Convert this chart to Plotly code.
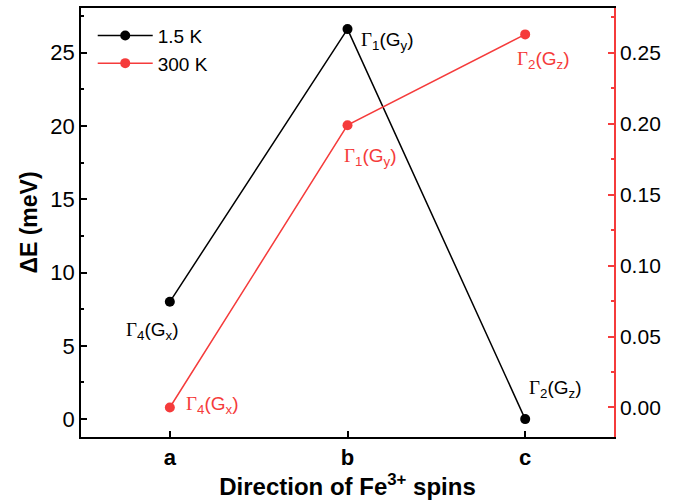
import plotly.graph_objects as go

categories = ["a", "b", "c"]
dE_15K = [8.0, 26.6, 0.0]
dE_300K = [0.0, 0.199, 0.263]
labels_15K = ["Γ<sub>4</sub>(G<sub>x</sub>)", "Γ<sub>1</sub>(G<sub>y</sub>)", "Γ<sub>2</sub>(G<sub>z</sub>)"]
labels_300K = ["Γ<sub>4</sub>(G<sub>x</sub>)", "Γ<sub>1</sub>(G<sub>y</sub>)", "Γ<sub>2</sub>(G<sub>z</sub>)"]

BLACK = "#000000"
RED = "#f53b3b"
FONT = "Liberation Sans, Arial, sans-serif"

def fmt(lbl):
    return lbl.replace("Γ", "<span style='font-family:Liberation Serif, Times New Roman, serif'>Γ</span>")

fig = go.Figure()
fig.add_trace(go.Scatter(x=categories, y=dE_15K, name="1.5 K", mode="lines+markers",
                         line=dict(color=BLACK, width=1.5),
                         marker=dict(color=BLACK, size=10), yaxis="y"))
fig.add_trace(go.Scatter(x=categories, y=dE_300K, name="300 K", mode="lines+markers",
                         line=dict(color=RED, width=1.5),
                         marker=dict(color=RED, size=10), yaxis="y2"))

shifts_15K = [(-18, -29), (39, -12), (30, 30)]
shifts_300K = [(42, 2), (22, -32), (18, -26)]
for c, v, l, (dx, dy) in zip(categories, dE_15K, labels_15K, shifts_15K):
    fig.add_annotation(x=c, y=v, xref="x", yref="y", text=fmt(l), showarrow=False,
                       xshift=dx, yshift=dy, font=dict(family=FONT, size=19, color=BLACK))
for c, v, l, (dx, dy) in zip(categories, dE_300K, labels_300K, shifts_300K):
    fig.add_annotation(x=c, y=v, xref="x", yref="y2", text=fmt(l), showarrow=False,
                       xshift=dx, yshift=dy, font=dict(family=FONT, size=19, color=RED))

fig.update_layout(
    width=684, height=504,
    margin=dict(l=81, r=70, t=6, b=67),
    paper_bgcolor="white", plot_bgcolor="white",
    font=dict(family=FONT, size=21, color="black"),
    showlegend=True,
    legend=dict(x=0.022, y=0.98, xanchor="left", yanchor="top", itemwidth=55,
                bgcolor="rgba(0,0,0,0)", font=dict(size=19), tracegroupgap=0),
    xaxis=dict(
        type="category", range=[-0.5, 2.5],
        showline=True, linecolor="black", linewidth=1.5, mirror=True,
        ticks="inside", ticklen=6, tickwidth=1.5, tickcolor="black",
        showgrid=False, zeroline=False,
        tickfont=dict(size=22, family=FONT),
        ticktext=["<b>a</b>", "<b>b</b>", "<b>c</b>"], tickvals=categories,
        title=dict(text="<b>Direction of Fe<sup>3+</sup> spins</b>", font=dict(size=24), standoff=7),
    ),
    yaxis=dict(
        range=[-1.22, 28.04], dtick=5, tick0=0,
        showline=True, linecolor="black", linewidth=1.5,
        ticks="inside", ticklen=6, tickwidth=1.5, tickcolor="black",
        minor=dict(ticks="inside", ticklen=3, dtick=2.5, tick0=0, tickcolor="black", tickwidth=1.5),
        showgrid=False, zeroline=False,
        tickfont=dict(size=22),
        title=dict(text="<b>ΔE (meV)</b>", font=dict(size=23), standoff=6),
    ),
    yaxis2=dict(
        overlaying="y", side="right",
        range=[-0.0208, 0.2816], dtick=0.05, tick0=0, tickformat=".2f",
        showline=True, linecolor=RED, linewidth=1.5,
        ticks="inside", ticklen=6, tickwidth=1.5, tickcolor=RED,
        minor=dict(ticks="inside", ticklen=3, dtick=0.025, tick0=0, tickcolor=RED, tickwidth=1.5),
        showgrid=False, zeroline=False,
        tickfont=dict(size=21, color="black"),
    ),
)

fig.write_html("out.html")
